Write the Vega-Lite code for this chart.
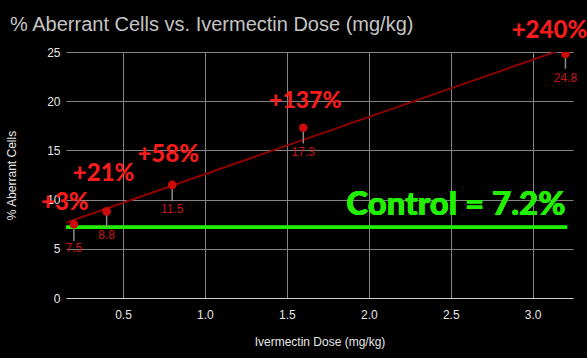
{
  "$schema": "https://vega.github.io/schema/vega-lite/v6.json",
  "autosize": {"type": "none"},
  "width": 507,
  "height": 246,
  "padding": {"left": 66, "top": 52, "right": 14, "bottom": 60},
  "background": "#000000",
  "title": {
    "text": "% Aberrant Cells vs. Ivermectin Dose (mg/kg)",
    "anchor": "start",
    "frame": "group",
    "dx": -56,
    "dy": 20,
    "offset": 4,
    "font": "Liberation Sans",
    "fontSize": 20,
    "fontWeight": "normal",
    "color": "#c4c4c4"
  },
  "config": {
    "view": {"stroke": null},
    "axis": {
      "domain": false,
      "ticks": false,
      "gridColor": {"condition": {"test": "datum.value === 0", "value": "#d0d0d0"}, "value": "#858585"},
      "gridWidth": 1,
      "gridOpacity": 1,
      "labelColor": "#e6e6e6",
      "labelFont": "Liberation Sans",
      "labelFontSize": 12,
      "titleColor": "#e6e6e6",
      "titleFont": "Liberation Sans",
      "titleFontSize": 12,
      "titleFontWeight": "normal"
    }
  },
  "data": {
    "values": [
      {"dose": 0.2, "pct": 7.5, "low": 5.8, "change": "+3%"},
      {"dose": 0.4, "pct": 8.8, "low": 7.2, "change": "+21%"},
      {"dose": 0.8, "pct": 11.5, "low": 9.8, "change": "+58%"},
      {"dose": 1.6, "pct": 17.3, "low": 15.7, "change": "+137%"},
      {"dose": 3.2, "pct": 24.8, "low": 23.3, "change": "+240%"}
    ]
  },
  "encoding": {
    "x": {
      "field": "dose",
      "type": "quantitative",
      "scale": {"domain": [0.152, 3.246], "nice": false, "zero": false},
      "axis": {"title": "Ivermectin Dose (mg/kg)", "values": [0.5, 1, 1.5, 2, 2.5, 3], "format": ".1f", "labelPadding": 11, "titlePadding": 16}
    },
    "y": {
      "field": "pct",
      "type": "quantitative",
      "scale": {"domain": [0, 25], "nice": false},
      "axis": {"title": "% Aberrant Cells", "values": [0, 5, 10, 15, 20, 25], "labelPadding": 6, "titlePadding": 28}
    }
  },
  "layer": [
    {
      "transform": [{"regression": "pct", "on": "dose", "extent": [0.155, 3.2]}],
      "mark": {"type": "line", "color": "#8e0000", "strokeWidth": 2, "clip": true}
    },
    {
      "mark": {"type": "rule", "color": "#22ee00", "strokeWidth": 3},
      "encoding": {
        "x": {"datum": 0.152},
        "x2": {"datum": 3.21},
        "y": {"datum": 7.2}
      }
    },
    {
      "mark": {"type": "rule", "color": "#8a8a8a", "strokeWidth": 1.5},
      "encoding": {"y2": {"field": "low"}}
    },
    {
      "mark": {"type": "point", "filled": true, "color": "#cc0a0a", "size": 75, "opacity": 1, "clip": true}
    },
    {
      "mark": {"type": "text", "color": "#c81414", "font": "Liberation Sans", "fontSize": 12, "baseline": "middle", "dy": 24},
      "encoding": {"text": {"field": "pct", "type": "quantitative", "format": ".1f"}}
    },
    {
      "transform": [{"filter": "datum.dose === 0.2"}],
      "mark": {"type": "text", "color": "#f51c1c", "font": "Lato", "fontWeight": 900, "fontSize": 24, "baseline": "middle", "dx": -9, "dy": -21},
      "encoding": {"text": {"field": "change"}}
    },
    {
      "transform": [{"filter": "datum.dose === 0.4"}],
      "mark": {"type": "text", "color": "#f51c1c", "font": "Lato", "fontWeight": 900, "fontSize": 24, "baseline": "middle", "dx": -3, "dy": -37},
      "encoding": {"text": {"field": "change"}}
    },
    {
      "transform": [{"filter": "datum.dose === 0.8"}],
      "mark": {"type": "text", "color": "#f51c1c", "font": "Lato", "fontWeight": 900, "fontSize": 24, "baseline": "middle", "dx": -4, "dy": -30},
      "encoding": {"text": {"field": "change"}}
    },
    {
      "transform": [{"filter": "datum.dose === 1.6"}],
      "mark": {"type": "text", "color": "#f51c1c", "font": "Lato", "fontWeight": 900, "fontSize": 23, "baseline": "middle", "dx": 2, "dy": -27},
      "encoding": {"text": {"field": "change"}}
    },
    {
      "transform": [{"filter": "datum.dose === 3.2"}],
      "mark": {"type": "text", "color": "#f51c1c", "font": "Lato", "fontWeight": 900, "fontSize": 24, "baseline": "middle", "dx": -16, "dy": -23},
      "encoding": {"text": {"field": "change"}}
    },
    {
      "mark": {"type": "text", "color": "#22ee00", "font": "Lato", "fontWeight": 900, "fontSize": 33, "align": "right", "baseline": "alphabetic", "dy": -12},
      "encoding": {
        "x": {"datum": 3.2},
        "y": {"datum": 7.2},
        "text": {"value": "Control = 7.2%"}
      }
    }
  ]
}
